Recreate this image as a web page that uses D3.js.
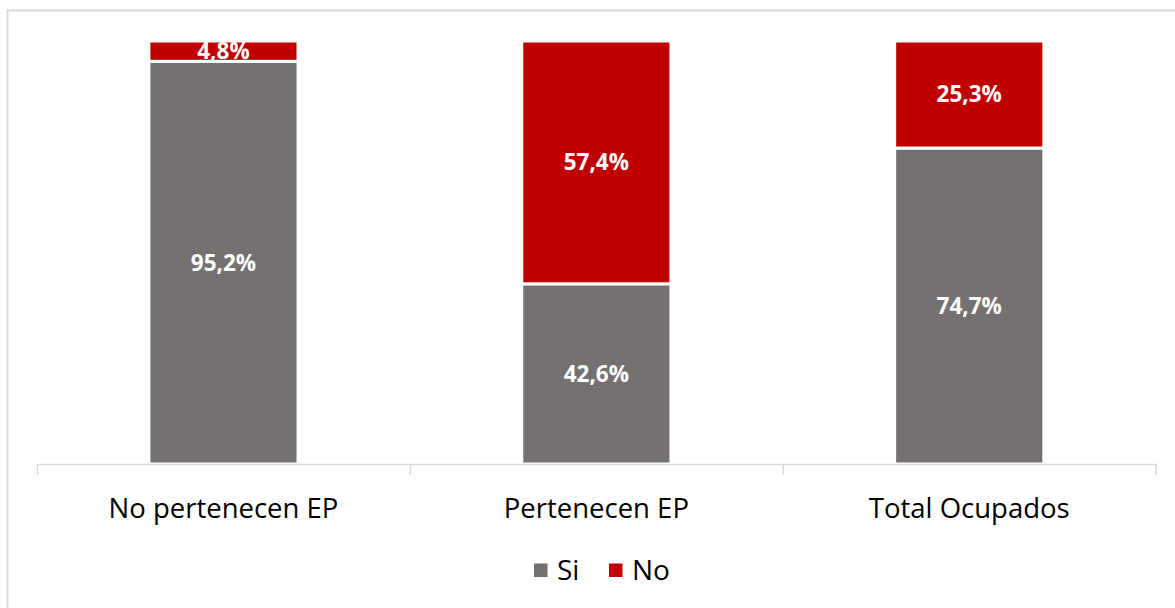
<!DOCTYPE html>
<html>
<head>
<meta charset="utf-8">
<script src="https://cdn.jsdelivr.net/npm/d3@7"></script>
<style>
  html, body { margin: 0; padding: 0; background: #fff; }
  svg { display: block; font-family: "Open Sans", "Noto Sans", sans-serif; }
</style>
</head>
<body>
<svg id="chart" width="1175" height="608"></svg>
<script>
const categories = ["No pertenecen EP", "Pertenecen EP", "Total Ocupados"];
const siValues = [95.2, 42.6, 74.7];
const noValues = [4.8, 57.4, 25.3];
const seriesNames = ["Si", "No"];
const seriesColors = ["#767171", "#C00000"];

(function () {
const svg = d3.select("#chart");
const plotLeft = 37, plotRight = 1155.7, plotTop = 41, plotBase = 464;

// outer border
svg.append("rect")
  .attr("x", 7.5).attr("y", 10.5)
  .attr("width", 1180).attr("height", 620)
  .attr("fill", "#fff").attr("stroke", "#d9d9d9").attr("stroke-width", 2);

const x = d3.scaleBand().domain(categories).range([plotLeft, plotRight])
  .paddingInner(0.6).paddingOuter(0.3);
const y = d3.scaleLinear().domain([0, 100]).range([plotBase, plotTop]);

const rows = categories.map((c, i) => ({ cat: c, Si: siValues[i], No: noValues[i] }));
const stack = d3.stack().keys(seriesNames)(rows);

const g = svg.append("g");
stack.forEach((layer, li) => {
  g.selectAll(null).data(layer).join("rect")
    .attr("x", d => x(d.data.cat))
    .attr("width", x.bandwidth())
    .attr("y", d => y(d[1]))
    .attr("height", d => y(d[0]) - y(d[1]))
    .attr("fill", seriesColors[li])
    .attr("stroke", "#fff")
    .attr("stroke-width", 3);
});

// axis
const bx = d3.scaleLinear().domain([0, categories.length]).range([plotLeft, plotRight]);
const axis = svg.append("g").attr("transform", `translate(0,${plotBase})`)
  .call(d3.axisBottom(bx).tickValues(d3.range(categories.length + 1))
    .tickSize(11).tickSizeOuter(0).tickFormat(""));
axis.select(".domain").attr("stroke", "#d9d9d9").attr("stroke-width", 1.5);
axis.selectAll(".tick line").attr("stroke", "#d9d9d9").attr("stroke-width", 1.5);

// category labels
svg.selectAll(".cat").data(categories).join("text")
  .attr("class", "cat")
  .attr("x", d => x(d) + x.bandwidth() / 2)
  .attr("y", 518)
  .attr("text-anchor", "middle")
  .attr("font-size", 27.5)
  .attr("fill", "#000")
  .text(d => d);

// data labels
stack.forEach((layer) => {
  svg.selectAll(null).data(layer).join("text")
    .attr("x", d => x(d.data.cat) + x.bandwidth() / 2)
    .attr("y", d => (y(d[0]) + y(d[1])) / 2)
    .attr("dy", "0.35em")
    .attr("text-anchor", "middle")
    .attr("font-size", 22.5)
    .attr("font-weight", "bold")
    .attr("fill", "#fff")
    .text(d => d3.format(".1f")(d[1] - d[0]).replace(".", ",") + "%");
});

// legend
const legend = svg.append("g");
const legX = [534, 609];
seriesNames.forEach((s, i) => {
  legend.append("rect").attr("x", legX[i]).attr("y", 563.5).attr("width", 13.5).attr("height", 13.5)
    .attr("fill", seriesColors[i]);
  legend.append("text").attr("x", legX[i] + 23).attr("y", 580)
    .attr("font-size", 28).attr("fill", "#000").text(s);
});
})();
</script>
</body>
</html>
